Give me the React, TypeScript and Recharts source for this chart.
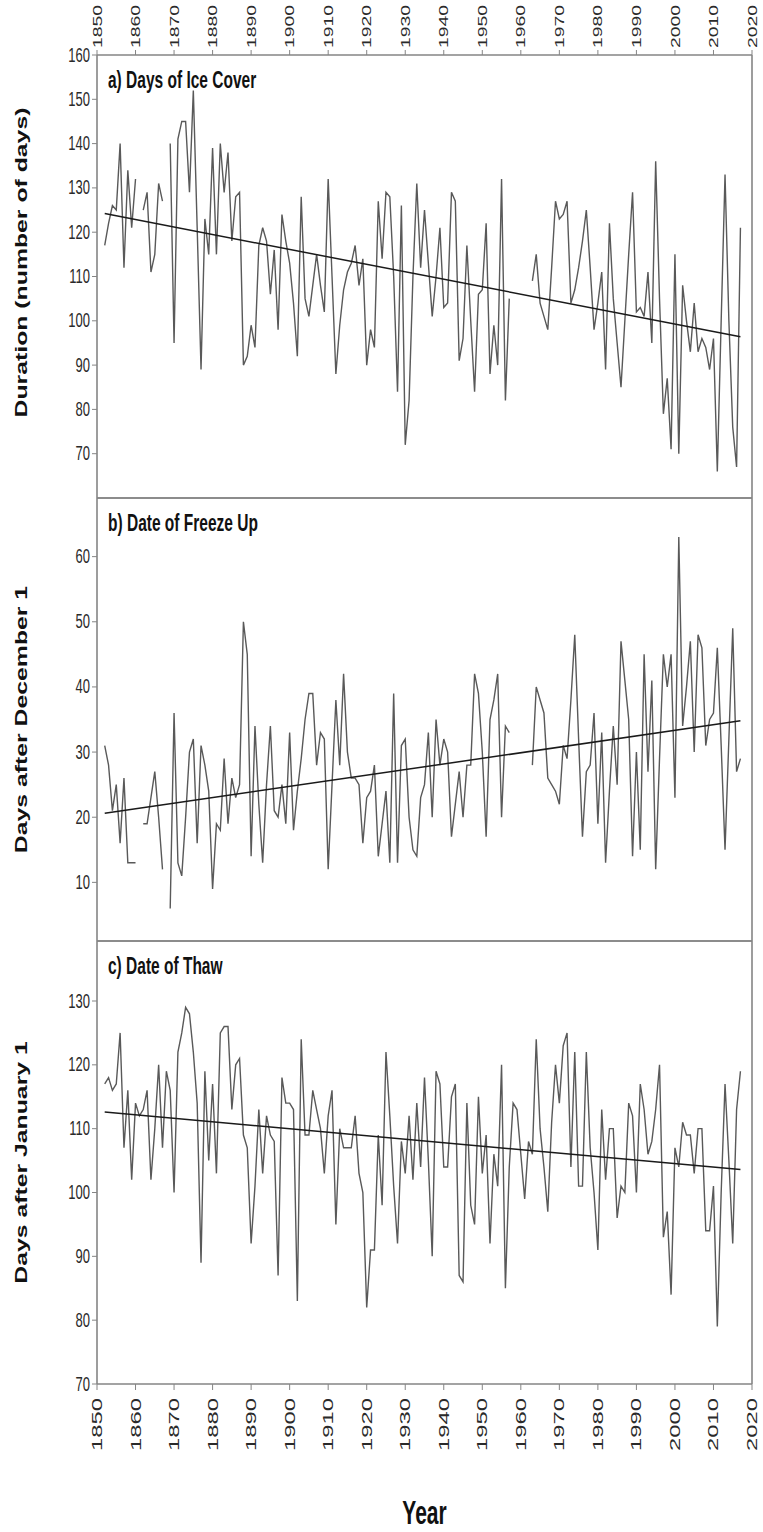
import React from "react";
import { LineChart, Line, XAxis, YAxis, ReferenceLine } from "recharts";

// years 1852..2017, one value per winter
const years: number[] = Array.from({ length: 166 }, (_, i) => 1852 + i);

// a) days of ice cover
const iceDays: (number | null)[] = [
  117, 122, 126, 125, 140, 112, 134, 121, // 1852-59
  132, null, 125, 129, 111, 115, 131, 127, null, 140,
  95, 141, 145, 145, 129, 152, 121, 89, 123, 115,
  139, 115, 140, 129, 138, 118, 128, 129, 90, 92,
  99, 94, 117, 121, 118, 106, 116, 98, 124, 118,
  113, 104, 92, 128, 105, 101, 108, 115, 108, 102,
  132, 110, 88, 99, 107, 111, 113, 117, 108, 114,
  90, 98, 94, 127, 114, 129, 128, 110, 84, 126,
  72, 82, 110, 131, 112, 125, 113, 101, 110, 121,
  103, 104, 129, 127, 91, 96, 117, 100, 84, 106,
  107, 122, 88, 99, 90, 132, 82, 105, null, null,
  null, null, null, 109, 115, 104, 101, 98, 112, 127,
  123, 124, 127, 104, 107, 112, 118, 125, 112, 98,
  104, 111, 89, 122, 105, 95, 85, 100, 115, 129,
  102, 103, 101, 111, 95, 136, 105, 79, 87, 71,
  115, 70, 108, 100, 93, 104, 93, 96, 94, 89,
  96, 66, 100, 133, 100, 76, 67, 121, // 2010-17
];

// b) freeze up, days after December 1
const freezeUp: (number | null)[] = [
  31, 28, 21, 25, 16, 26, 13, 13,
  13, null, 19, 19, 23, 27, 20, 12, null, 6,
  36, 13, 11, 20, 30, 32, 16, 31, 28, 24,
  9, 19, 18, 29, 19, 26, 23, 25, 50, 45,
  14, 34, 22, 13, 25, 34, 21, 20, 25, 19,
  33, 18, 24, 29, 35, 39, 39, 28, 33, 32,
  12, 25, 38, 28, 42, 30, 26, 26, 25, 16,
  23, 24, 28, 14, 19, 24, 13, 39, 13, 31,
  32, 20, 15, 14, 23, 25, 33, 20, 35, 28,
  32, 30, 17, 22, 27, 20, 28, 28, 42, 39,
  30, 17, 35, 38, 42, 20, 34, 33, null, null,
  null, null, null, 28, 40, 38, 36, 26, 25, 24,
  22, 31, 29, 38, 48, 32, 17, 27, 28, 36,
  19, 33, 13, 24, 34, 25, 47, 41, 35, 14,
  30, 15, 45, 27, 41, 12, 29, 45, 40, 45,
  23, 63, 34, 40, 47, 30, 48, 46, 31, 35,
  36, 46, 31, 15, 32, 49, 27, 29,
];

// c) thaw, days after January 1
const thaw: (number | null)[] = [
  117, 118, 116, 117, 125, 107, 116, 102,
  114, 112, 113, 116, 102, 110, 120, 107, 119, 116,
  100, 122, 125, 129, 128, 122, 114, 89, 119, 105,
  117, 103, 125, 126, 126, 113, 120, 121, 109, 107,
  92, 101, 113, 103, 112, 109, 108, 87, 118, 114,
  114, 113, 83, 124, 109, 109, 116, 113, 110, 103,
  112, 116, 95, 110, 107, 107, 107, 112, 103, 100,
  82, 91, 91, 109, 98, 122, 112, 101, 92, 108,
  103, 112, 102, 114, 104, 118, 105, 90, 119, 117,
  104, 104, 115, 117, 87, 86, 114, 98, 95, 115,
  103, 109, 92, 106, 101, 120, 85, 104, 114, 113,
  106, 99, 108, 106, 124, 110, 104, 97, 111, 120,
  114, 123, 125, 104, 122, 101, 101, 122, 107, 100,
  91, 113, 102, 110, 110, 96, 101, 100, 114, 112,
  100, 117, 113, 106, 108, 113, 120, 93, 97, 84,
  107, 104, 111, 109, 109, 103, 110, 110, 94, 94,
  101, 79, 100, 117, 105, 92, 113, 119,
];

// linear trend end points
const trendIce = [{ year: 1852, v: 124.2 }, { year: 2017, v: 96.4 }];
const trendFreeze = [{ year: 1852, v: 20.6 }, { year: 2017, v: 34.8 }];
const trendThaw = [{ year: 1852, v: 112.6 }, { year: 2017, v: 103.6 }];

const yearTicks = [1850, 1860, 1870, 1880, 1890, 1900, 1910, 1920, 1930, 1940, 1950, 1960, 1970, 1980, 1990, 2000, 2010, 2020];
const iceTicks = [70, 80, 90, 100, 110, 120, 130, 140, 150, 160];
const freezeTicks = [10, 20, 30, 40, 50, 60];
const thawTicks = [70, 80, 90, 100, 110, 120, 130];

const W = 763;
const H = 1532;
const FONT = "'Liberation Sans', Arial, sans-serif";
const STRETCH = 1.55; // the figure is stretched vertically
const AXIS = "#858585";
const TXT = "#2a2a2a";

const ValueTick = (props: any) => {
  const { x, y, payload } = props;
  return (
    <text
      transform={`translate(${x},${y}) scale(1,${STRETCH})`}
      textAnchor="end"
      dominantBaseline="central"
      fontSize={13}
      fontFamily={FONT}
      fill={TXT}
    >
      {payload.value}
    </text>
  );
};

const YearTick = (props: any) => {
  const { x, y, payload, orientation } = props;
  const top = orientation === "top";
  return (
    <text
      transform={`translate(${x},${y}) rotate(-90) scale(${top ? STRETCH : 1.7},1)`}
      textAnchor={top ? "start" : "end"}
      dominantBaseline="central"
      fontSize={top ? 12.5 : 14}
      fontFamily={FONT}
      fill={TXT}
    >
      {payload.value}
    </text>
  );
};

const YTitle = (props: any) => {
  const vb = props.viewBox || {};
  const cy = vb.y + vb.height / 2 + (props.shift || 0);
  return (
    <text
      transform={`translate(21,${cy}) rotate(-90) scale(${STRETCH},1)`}
      textAnchor="middle"
      dominantBaseline="central"
      fontSize={16}
      fontWeight="bold"
      fontFamily={FONT}
      fill="#111"
    >
      {props.value}
    </text>
  );
};

const XTitle = (props: any) => {
  const vb = props.viewBox || {};
  return (
    <text
      transform={`translate(${vb.x + vb.width / 2},${vb.y + 129}) scale(1,${STRETCH})`}
      textAnchor="middle"
      dominantBaseline="central"
      fontSize={21}
      fontWeight="bold"
      fontFamily={FONT}
      fill="#111"
    >
      Year
    </text>
  );
};

interface PanelProps {
  title: string;
  yTitle: string;
  titleShift?: number;
  values: (number | null)[];
  trend: { year: number; v: number }[];
  domain: [number, number];
  yTicks: number[];
  top: number;
  bottom: number;
  topLabels?: boolean;
  bottomLabels?: boolean;
}

function Panel(p: PanelProps) {
  const rows = years.map((year, i) => ({ year, v: p.values[i] }));
  const topH = p.topLabels ? p.top : 20;
  const bottomH = p.bottomLabels ? H - p.bottom : 20;
  return (
    <div style={{ position: "absolute", left: 0, top: 0 }}>
      <LineChart
        width={W}
        height={H}
        data={rows}
        margin={{ top: p.top - topH, right: 11, bottom: H - p.bottom - bottomH, left: 0 }}
      >
        <XAxis
          xAxisId="top"
          orientation="top"
          type="number"
          dataKey="year"
          domain={[1850, 2020]}
          ticks={yearTicks}
          interval={0}
          allowDataOverflow
          height={topH}
          tickSize={5}
          tickLine={{ stroke: AXIS }}
          axisLine={{ stroke: AXIS, strokeWidth: 1.6 }}
          tick={p.topLabels ? <YearTick orientation="top" /> : false}
        />
        <XAxis
          xAxisId="bottom"
          orientation="bottom"
          type="number"
          dataKey="year"
          domain={[1850, 2020]}
          ticks={yearTicks}
          interval={0}
          allowDataOverflow
          height={bottomH}
          tickSize={6}
          tickMargin={p.bottomLabels ? 8 : 2}
          tickLine={{ stroke: AXIS }}
          axisLine={{ stroke: AXIS, strokeWidth: 1.6 }}
          tick={p.bottomLabels ? <YearTick orientation="bottom" /> : false}
          label={p.bottomLabels ? <XTitle /> : undefined}
        />
        <YAxis
          type="number"
          domain={p.domain}
          ticks={p.yTicks}
          interval={0}
          allowDataOverflow
          width={97}
          tickSize={5}
          tickLine={{ stroke: AXIS }}
          axisLine={{ stroke: AXIS, strokeWidth: 1.6 }}
          tick={<ValueTick />}
          label={<YTitle value={p.yTitle} shift={p.titleShift} />}
        />
        <ReferenceLine xAxisId="top" x={2020} stroke={AXIS} strokeWidth={1.6} />
        <Line
          xAxisId="top"
          type="linear"
          dataKey="v"
          stroke="#595959"
          strokeWidth={1.4}
          dot={false}
          connectNulls={false}
          isAnimationActive={false}
        />
        <Line
          xAxisId="top"
          data={p.trend}
          type="linear"
          dataKey="v"
          stroke="#1a1a1a"
          strokeWidth={1.5}
          dot={false}
          isAnimationActive={false}
        />
      </LineChart>
      <div
        style={{
          position: "absolute",
          left: 108,
          top: p.top + 13,
          fontFamily: FONT,
          fontWeight: "bold",
          fontSize: 15.5,
          color: "#111",
          whiteSpace: "nowrap",
          transform: `scaleY(${STRETCH})`,
          transformOrigin: "left top",
          lineHeight: 1,
        }}
      >
        {p.title}
      </div>
    </div>
  );
}

export default function App() {
  return (
    <div style={{ position: "absolute", left: 0, top: 0, width: W, height: H, background: "#fff" }}>
      <Panel
        title="a) Days of Ice Cover"
        yTitle="Duration (number of days)"
        titleShift={-14}
        values={iceDays}
        trend={trendIce}
        domain={[60, 160]}
        yTicks={iceTicks}
        top={55}
        bottom={498}
        topLabels
      />
      <Panel
        title="b) Date of Freeze Up"
        yTitle="Days after December 1"
        values={freezeUp}
        trend={trendFreeze}
        domain={[1, 69]}
        yTicks={freezeTicks}
        top={498}
        bottom={941}
      />
      <Panel
        title="c) Date of Thaw"
        yTitle="Days after January 1"
        values={thaw}
        trend={trendThaw}
        domain={[70, 139.4]}
        yTicks={thawTicks}
        top={941}
        bottom={1384}
        bottomLabels
      />
    </div>
  );
}
